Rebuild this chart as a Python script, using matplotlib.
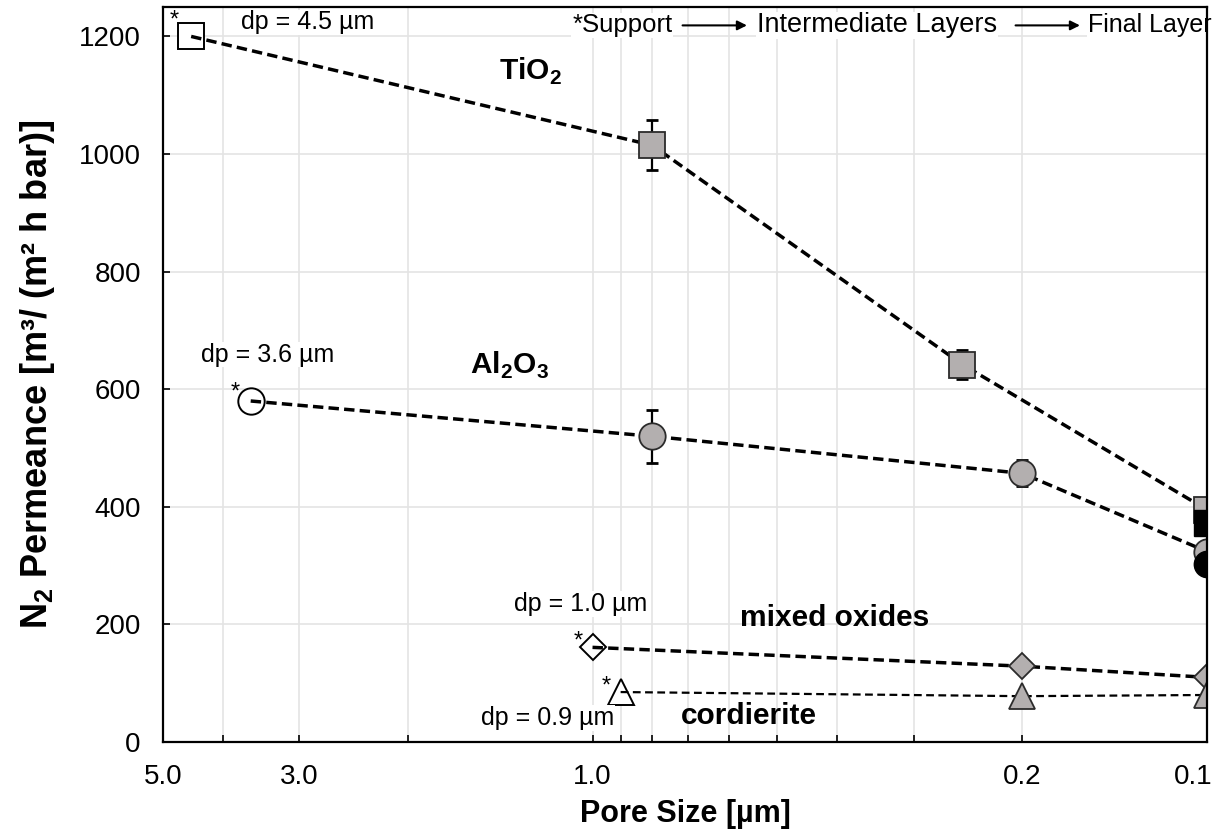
import matplotlib
matplotlib.use('Agg')
import matplotlib.pyplot as plt
import matplotlib.transforms as mtransforms
from matplotlib.ticker import FixedLocator, FixedFormatter, NullFormatter

plt.rcParams['font.family'] = ['Liberation Sans', 'DejaVu Sans']
plt.rcParams['mathtext.fontset'] = 'custom'
plt.rcParams['mathtext.rm'] = 'Liberation Sans'
plt.rcParams['mathtext.bf'] = 'Liberation Sans:bold'

# pore size [um] / permeance [m3/(m2 h bar)] -- first point is the support
tio2_x = [4.5, 0.8, 0.25, 0.1]
tio2_y = [1200, 1015, 642, 395]
tio2_err = [0, 43, 24, 0]

al2o3_x = [3.6, 0.8, 0.2, 0.1]
al2o3_y = [580, 520, 457, 324]
al2o3_err = [0, 45, 22, 0]

mixed_x = [1.0, 0.2, 0.1]
mixed_y = [161, 129, 110]

cord_x = [0.9, 0.2, 0.1]
cord_y = [85, 78, 80]

# second final layer (black markers)
tio2_final_x = [0.1]
tio2_final_y = [373]
al2o3_final_x = [0.1]
al2o3_final_y = [302]

support_labels = ['dp = 4.5 µm', 'dp = 3.6 µm', 'dp = 1.0 µm', 'dp = 0.9 µm']

major_ticks = [5.0, 3.0, 1.0, 0.2, 0.1]
major_labels = ['5.0', '3.0', '1.0', '0.2', '0.1']
minor_ticks = [4.0, 2.0, 0.9, 0.8, 0.7, 0.6, 0.5, 0.4, 0.3]
y_ticks = [0, 200, 400, 600, 800, 1000, 1200]

GRAY = '#b3afaf'
EDGE = '#2b2b2b'

fig = plt.figure(figsize=(12.14, 8.36), dpi=100)
ax = fig.add_axes([0.1343, 0.1124, 0.8599, 0.8792])

ax.set_xscale('log')
ax.set_xlim(5.0, 0.1)
ax.set_ylim(0, 1250)

ax.xaxis.set_major_locator(FixedLocator(major_ticks))
ax.xaxis.set_major_formatter(FixedFormatter(major_labels))
ax.xaxis.set_minor_locator(FixedLocator(minor_ticks))
ax.xaxis.set_minor_formatter(NullFormatter())
ax.set_yticks(y_ticks)

ax.grid(True, which='both', color='#e4e4e4', lw=1.2, zorder=0)
ax.set_axisbelow(True)
ax.tick_params(axis='both', which='both', direction='in', labelsize=20,
               pad=16, width=1.2, length=5, top=False, right=False)
for s in ax.spines.values():
    s.set_linewidth(1.6)
    s.set_zorder(6)

# error bars (behind markers)
ax.errorbar(tio2_x[1:], tio2_y[1:], yerr=tio2_err[1:], fmt='none', ecolor='black',
            elinewidth=1.6, capsize=4, capthick=2, zorder=2)
ax.errorbar(al2o3_x[1:], al2o3_y[1:], yerr=al2o3_err[1:], fmt='none', ecolor='black',
            elinewidth=1.6, capsize=4, capthick=2, zorder=2)

series = [
    (tio2_x, tio2_y, 's', 19, 2.5, (3, 1.5), (-9, 7)),
    (al2o3_x, al2o3_y, 'o', 19, 2.5, (3, 1.5), (-8, 2)),
    (mixed_x, mixed_y, 'D', 13, 2.5, (3, 1.5), (-7, 0)),
    (cord_x, cord_y, '^', 18.5, 1.6, (3.5, 2.0), (-7, 0)),
]

for i, (xs, ys, mk, ms, lw, dsh, star_off) in enumerate(series):
    # support marker, white, under the line
    ax.plot(xs[:1], ys[:1], mk, ms=ms, mfc='white', mec='black', mew=1.4,
            zorder=2.5 + i * 0.1)
    ax.plot(xs, ys, color='black', lw=lw, dashes=dsh, marker=mk, ms=ms,
            mfc=GRAY, mec=EDGE, mew=1.3, markevery=list(range(1, len(xs))),
            zorder=3 + i * 0.1)
    ax.annotate('*', (xs[0], ys[0]), xytext=star_off, textcoords='offset points',
                ha='right', va='baseline', fontsize=17, zorder=5)

ax.plot(tio2_final_x, tio2_final_y, 's', ms=19, mfc='black', mec='black', zorder=3.05)
ax.plot(al2o3_final_x, al2o3_final_y, 'o', ms=19, mfc='black', mec='black', zorder=3.15)

# pore size labels of the supports
wbox = dict(facecolor='white', edgecolor='none', pad=0.5)
ax.text(3.74, 1224, support_labels[0], fontsize=18, va='center', ha='left', bbox=wbox, zorder=4)
ax.text(4.33, 659, support_labels[1], fontsize=18, va='center', ha='left', bbox=wbox, zorder=4)
ax.text(1.34, 235, support_labels[2], fontsize=18, va='center', ha='left', bbox=wbox, zorder=4)
ax.text(1.52, 41, support_labels[3], fontsize=18, va='center', ha='left', bbox=wbox, zorder=4)

# material names
ax.text(1.42, 1140, 'TiO$_\\mathbf{2}$', fontsize=21.5, fontweight='bold', va='center', ha='left')
ax.text(1.58, 640, 'Al$_\\mathbf{2}$O$_\\mathbf{3}$', fontsize=21.5, fontweight='bold',
        va='center', ha='left')
ax.text(0.576, 211, 'mixed oxides', fontsize=21.5, fontweight='bold', va='center', ha='left')
ax.text(0.717, 45, 'cordierite', fontsize=21.5, fontweight='bold', va='center', ha='left')

# header: support -> intermediate -> final
hy = 0.975
ax.text(0.392, hy, '*Support', transform=ax.transAxes, fontsize=18.5, va='center', ha='left',
        bbox=wbox, zorder=4)
ax.text(0.569, hy, 'Intermediate Layers', transform=ax.transAxes, fontsize=19.5, va='center',
        ha='left', bbox=wbox, zorder=4)
ax.text(0.886, hy, 'Final Layer', transform=ax.transAxes, fontsize=18, va='center', ha='left',
        bbox=wbox, zorder=4)
for x0, x1 in [(0.495, 0.562), (0.814, 0.881)]:
    ax.annotate('', xy=(x1, hy), xytext=(x0, hy), xycoords='axes fraction',
                arrowprops=dict(arrowstyle='-|>', color='black', lw=1.5, mutation_scale=14),
                zorder=5)

ax.set_xlabel('Pore Size [µm]', fontsize=22, fontweight='bold', labelpad=6)
ax.set_ylabel('N$_\\mathbf{2}$ Permeance [m³/ (m² h bar)]', fontsize=26, fontweight='bold',
              labelpad=16)

# keep the last x tick label inside the figure
fig.canvas.draw()
last = ax.get_xticklabels()[-1]
last.set_horizontalalignment('right')
last.set_transform(last.get_transform() + mtransforms.ScaledTranslation(6 / 100, 0, fig.dpi_scale_trans))

fig.savefig('out.png', dpi=100)
